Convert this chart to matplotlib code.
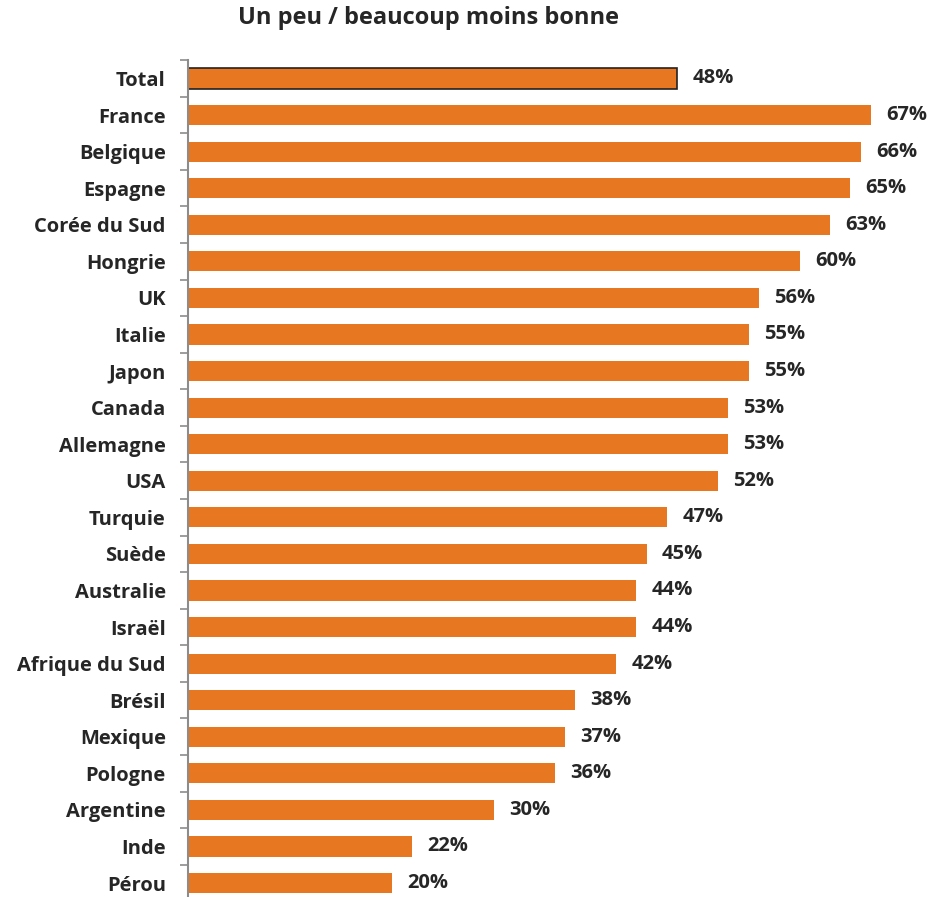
import matplotlib.pyplot as plt

countries = ['Total', 'France', 'Belgique', 'Espagne', 'Corée du Sud', 'Hongrie', 'UK',
             'Italie', 'Japon', 'Canada', 'Allemagne', 'USA', 'Turquie', 'Suède',
             'Australie', 'Israël', 'Afrique du Sud', 'Brésil', 'Mexique', 'Pologne',
             'Argentine', 'Inde', 'Pérou']
values = [48, 67, 66, 65, 63, 60, 56, 55, 55, 53, 53, 52, 47, 45, 44, 44, 42, 38, 37, 36, 30, 22, 20]

plt.rcParams['font.family'] = ['Open Sans', 'DejaVu Sans']

fig = plt.figure(figsize=(9.32, 8.97), dpi=100)
ax = fig.add_axes([188 / 932, -0.0048, 1 - 188 / 932, 0.9377])

pos = list(range(len(countries)))
bars = ax.barh(pos, values, height=0.55, color='#E87722')
bars[0].set_edgecolor('#222222')
bars[0].set_linewidth(1.2)

for p, v in zip(pos, values):
    ax.annotate(f'{v}%', (v, p), xytext=(11, 0), textcoords='offset points',
                va='center', ha='left', fontsize=14.5, fontweight='bold', color='#262626')

ax.set_ylim(len(countries) - 0.5, -0.5)
ax.set_xlim(0, 73)
ax.set_yticks(pos)
ax.set_yticklabels(countries, fontsize=14.5, fontweight='bold', color='#262626')
ax.set_yticks([i - 0.5 for i in range(len(countries) + 1)], minor=True)
ax.tick_params(axis='y', which='major', length=0, pad=16)
ax.tick_params(axis='y', which='minor', length=6, color='#8c8c8c', width=1.2)
ax.set_xticks([])
for s in ['top', 'right', 'bottom']:
    ax.spines[s].set_visible(False)
ax.spines['left'].set_color('#8c8c8c')
ax.spines['left'].set_linewidth(1.5)

fig.text(428 / 932, 1 - 18 / 897, 'Un peu / beaucoup moins bonne', ha='center', va='center',
         fontsize=17, fontweight='bold', color='#262626')

fig.savefig('out.png', dpi=100)
